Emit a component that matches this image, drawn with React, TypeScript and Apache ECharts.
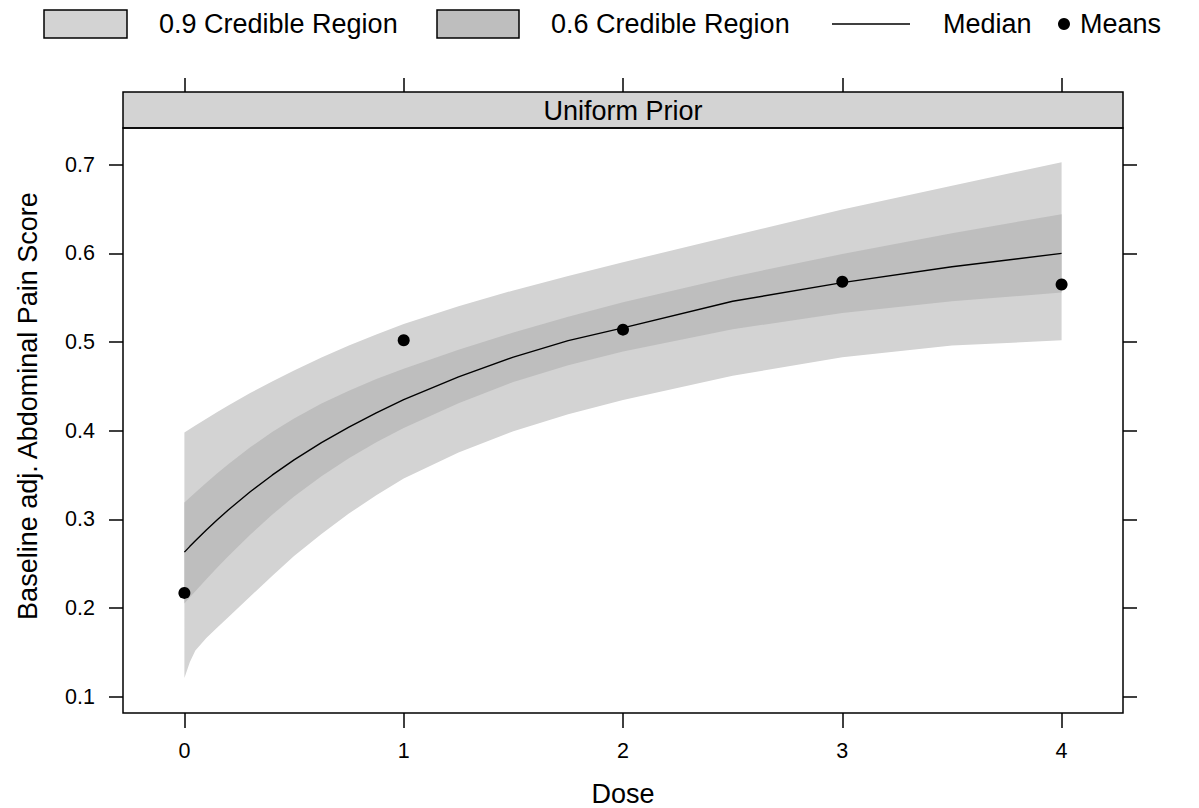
import React, { useEffect, useRef } from "react";
import * as echarts from "echarts";

const doses = [0, 0.025, 0.05, 0.1, 0.15, 0.2, 0.3, 0.4, 0.5, 0.625, 0.75, 0.875, 1, 1.25, 1.5, 1.75, 2, 2.5, 3, 3.5, 4];
const lower90 = [0.121, 0.139, 0.152, 0.166, 0.178, 0.1895, 0.213, 0.236, 0.2585, 0.2835, 0.3065, 0.3272, 0.346, 0.3755, 0.3993, 0.4185, 0.4345, 0.462, 0.483, 0.496, 0.502];
const upper90 = [0.398, 0.402, 0.406, 0.4136, 0.4211, 0.4284, 0.4424, 0.4556, 0.468, 0.4825, 0.496, 0.5085, 0.5203, 0.5403, 0.5583, 0.5745, 0.59, 0.62, 0.6495, 0.6763, 0.703];
const lower60 = [0.205, 0.212, 0.2189, 0.2325, 0.2456, 0.2584, 0.2827, 0.3052, 0.3257, 0.3486, 0.369, 0.3871, 0.4031, 0.4311, 0.4549, 0.4739, 0.4894, 0.5144, 0.5329, 0.5459, 0.5559];
const upper60 = [0.319, 0.3247, 0.3304, 0.3414, 0.352, 0.3622, 0.3812, 0.3984, 0.4138, 0.4306, 0.4452, 0.4582, 0.47, 0.4913, 0.5108, 0.5285, 0.5448, 0.5738, 0.5993, 0.6228, 0.6443];
const median = [0.263, 0.2695, 0.2758, 0.288, 0.2996, 0.3106, 0.3311, 0.3498, 0.367, 0.3865, 0.404, 0.4202, 0.435, 0.4607, 0.483, 0.5016, 0.516, 0.546, 0.567, 0.585, 0.6];

const meanDoses = [0, 1, 2, 3, 4];
const means = [0.217, 0.502, 0.514, 0.568, 0.565];

const xTicks = [0, 1, 2, 3, 4];
const yTicks = [0.1, 0.2, 0.3, 0.4, 0.5, 0.6, 0.7];

const FONT = "'Liberation Sans', Arial, Helvetica, sans-serif";
const LIGHT = "#D3D3D3";
const DARK = "#BEBEBE";
const MAIN_SIZE = 27;
const TICK_SIZE = 21.5;

export default function App() {
  const ref = useRef<HTMLDivElement>(null);
  useEffect(() => {
    if (!ref.current) return;
    const chart = echarts.init(ref.current, undefined, { renderer: "svg" });
    const band = (name: string, hi: number[], lo: number[], color: string, z: number) => ({
      name,
      type: "custom",
      data: [[doses[0], lo[0]]],
      encode: { x: 0, y: 1 },
      silent: true,
      z,
      renderItem: (_params: any, api: any) => {
        const top = doses.map((d, i) => api.coord([d, hi[i]]));
        const bottom = doses.map((d, i) => api.coord([d, lo[i]])).reverse();
        return {
          type: "polygon",
          shape: { points: top.concat(bottom) },
          style: { fill: color, stroke: "none" },
        };
      },
    });
    const textStyle = (size: number) => ({ fontFamily: FONT, fontSize: size, fill: "#000" });
    const tickStyle = { color: "#000", width: 1.5 };
    chart.setOption({
      animation: false,
      backgroundColor: "#fff",
      grid: {
        left: 123,
        right: 76,
        top: 128,
        bottom: 95,
        show: true,
        borderColor: "#000",
        borderWidth: 1.5,
        backgroundColor: "transparent",
        z: 20,
      },
      xAxis: [
        {
          type: "value",
          min: -0.28,
          max: 4.28,
          position: "bottom",
          axisLine: { show: false, onZero: false },
          axisTick: { show: true, length: 15, customValues: xTicks, lineStyle: tickStyle },
          axisLabel: {
            customValues: xTicks,
            margin: 27,
            color: "#000",
            fontSize: TICK_SIZE,
            fontFamily: FONT,
            formatter: (v: number) => String(v),
          },
          splitLine: { show: false },
        },
        {
          type: "value",
          min: -0.28,
          max: 4.28,
          position: "top",
          offset: 36,
          axisLine: { show: false, onZero: false },
          axisTick: { show: true, length: 14, customValues: xTicks, lineStyle: tickStyle },
          axisLabel: { show: false },
          splitLine: { show: false },
        },
      ],
      yAxis: [
        {
          type: "value",
          min: 0.0815,
          max: 0.7415,
          position: "left",
          axisLine: { show: false, onZero: false },
          axisTick: { show: true, length: 14, customValues: yTicks, lineStyle: tickStyle },
          axisLabel: {
            customValues: yTicks,
            margin: 28,
            color: "#000",
            fontSize: TICK_SIZE,
            fontFamily: FONT,
            formatter: (v: number) => v.toFixed(1),
          },
          splitLine: { show: false },
        },
        {
          type: "value",
          min: 0.0815,
          max: 0.7415,
          position: "right",
          axisLine: { show: false, onZero: false },
          axisTick: { show: true, length: 14, customValues: yTicks, lineStyle: tickStyle },
          axisLabel: { show: false },
          splitLine: { show: false },
        },
      ],
      series: [
        band("0.9 Credible Region", upper90, lower90, LIGHT, 1),
        band("0.6 Credible Region", upper60, lower60, DARK, 2),
        {
          name: "Median",
          type: "line",
          data: doses.map((d, i) => [d, median[i]]),
          symbol: "none",
          lineStyle: { color: "#000", width: 1.4 },
          z: 5,
        },
        {
          name: "Means",
          type: "scatter",
          data: meanDoses.map((d, i) => [d, means[i]]),
          symbol: "circle",
          symbolSize: 12,
          itemStyle: { color: "#000", opacity: 1 },
          z: 6,
        },
      ],
      graphic: [
        {
          type: "rect",
          shape: { x: 123, y: 92, width: 1000, height: 36 },
          style: { fill: LIGHT, stroke: "#000", lineWidth: 1.5 },
          z: 10,
        },
        {
          type: "text",
          x: 623,
          y: 111,
          style: { ...textStyle(MAIN_SIZE), text: "Uniform Prior", textAlign: "center", textVerticalAlign: "middle" },
          z: 11,
        },
        {
          type: "rect",
          shape: { x: 44, y: 10, width: 83, height: 28 },
          style: { fill: LIGHT, stroke: "#000", lineWidth: 1.5 },
          z: 10,
        },
        {
          type: "text",
          x: 159,
          y: 24,
          style: { ...textStyle(MAIN_SIZE), text: "0.9 Credible Region", textAlign: "left", textVerticalAlign: "middle" },
          z: 10,
        },
        {
          type: "rect",
          shape: { x: 437, y: 10, width: 82, height: 28 },
          style: { fill: DARK, stroke: "#000", lineWidth: 1.5 },
          z: 10,
        },
        {
          type: "text",
          x: 551,
          y: 24,
          style: { ...textStyle(MAIN_SIZE), text: "0.6 Credible Region", textAlign: "left", textVerticalAlign: "middle" },
          z: 10,
        },
        {
          type: "line",
          shape: { x1: 832, y1: 24, x2: 910, y2: 24 },
          style: { stroke: "#000", lineWidth: 1.5 },
          z: 10,
        },
        {
          type: "text",
          x: 943,
          y: 24,
          style: { ...textStyle(MAIN_SIZE), text: "Median", textAlign: "left", textVerticalAlign: "middle" },
          z: 10,
        },
        {
          type: "circle",
          shape: { cx: 1064, cy: 24, r: 6 },
          style: { fill: "#000" },
          z: 10,
        },
        {
          type: "text",
          x: 1080,
          y: 24,
          style: { ...textStyle(MAIN_SIZE), text: "Means", textAlign: "left", textVerticalAlign: "middle" },
          z: 10,
        },
        {
          type: "text",
          x: 28,
          y: 406,
          rotation: Math.PI / 2,
          style: {
            ...textStyle(MAIN_SIZE),
            text: "Baseline adj. Abdominal Pain Score",
            textAlign: "center",
            textVerticalAlign: "middle",
          },
          z: 10,
        },
        {
          type: "text",
          x: 623,
          y: 794,
          style: { ...textStyle(MAIN_SIZE), text: "Dose", textAlign: "center", textVerticalAlign: "middle" },
          z: 10,
        },
      ],
    });
    return () => chart.dispose();
  }, []);
  return (
    <div
      ref={ref}
      style={{ position: "fixed", left: 0, top: 0, width: 1199, height: 808, background: "#fff" }}
    />
  );
}
